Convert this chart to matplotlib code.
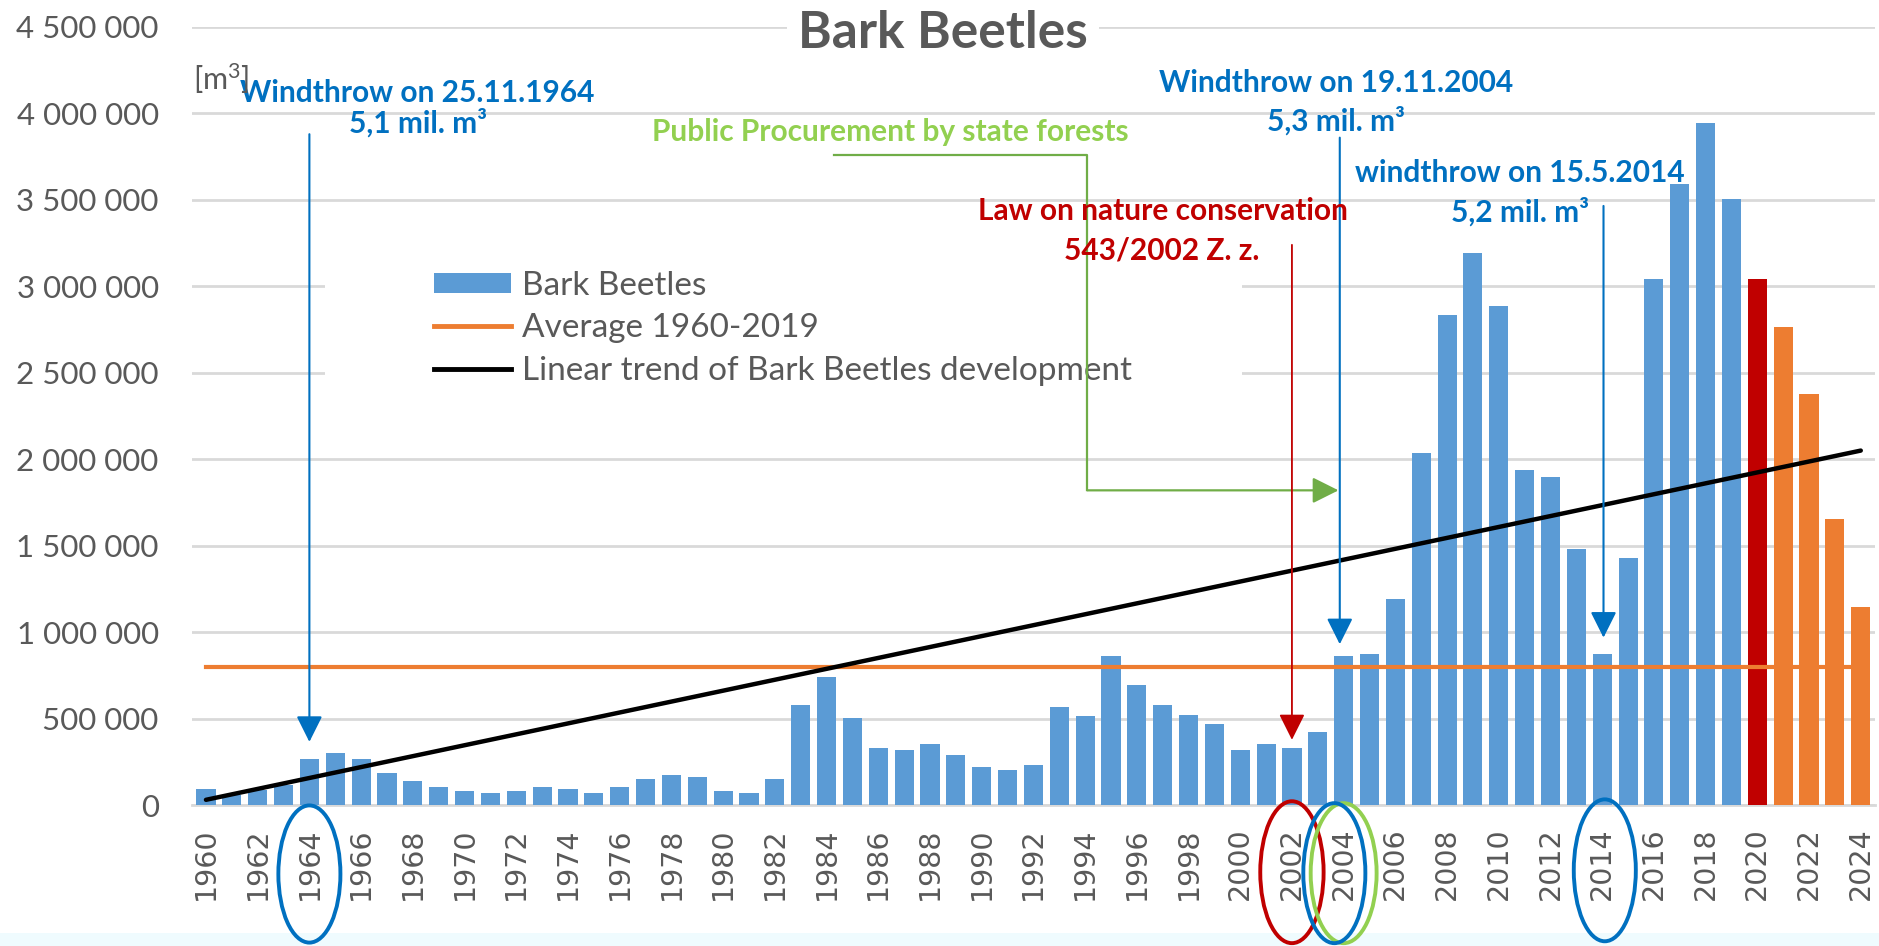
import numpy as np
import matplotlib
matplotlib.use("Agg")
import matplotlib.pyplot as plt
from matplotlib.patches import Patch, Rectangle, Ellipse
from matplotlib.lines import Line2D
from matplotlib.ticker import FuncFormatter
from matplotlib.transforms import blended_transform_factory

plt.rcParams['font.family'] = ['Lato', 'DejaVu Sans']
plt.rcParams['mathtext.fontset'] = 'custom'
plt.rcParams['mathtext.rm'] = 'Lato'
plt.rcParams['mathtext.it'] = 'Lato'

# data (m3 per year)
years = list(range(1960, 2025))
volume = [93000, 60000, 87000, 115000, 264000, 298000, 264000, 186000, 140000, 107000,
          83000, 72000, 83000, 107000, 95000, 72000, 107000, 151000, 174000, 163000,
          83000, 72000, 151000, 579000, 738000, 502000, 331000, 320000, 355000, 287000,
          217000, 205000, 229000, 568000, 512000, 862000, 694000, 579000, 523000, 467000,
          320000, 355000, 331000, 420000, 862000, 874000, 1190000, 2035000, 2833000, 3194000,
          2889000, 1938000, 1896000, 1479000, 874000, 1430000, 3040000, 3592000, 3945000, 3505000,
          3042000, 2764000, 2375000, 1653000, 1146000]
average_value = 800000
trend_years = [1960, 2024]
trend_values = [30000, 2050000]

blue = '#5B9BD5'
dark_red = '#C00000'
orange = '#ED7D31'
grey = '#595959'
txt_blue = '#0070C0'
txt_green = '#92D050'
line_green = '#70AD47'

bar_colors = [blue if y < 2020 else (dark_red if y == 2020 else orange) for y in years]

W, H = 1879, 946
fig = plt.figure(figsize=(W / 100, H / 100), dpi=100)
ax = fig.add_axes([192 / W, (H - 805) / H, (1875 - 192) / W, (805 - 27) / H])

ax.set_xlim(1959.46, 2024.55)
ax.set_ylim(0, 4500000)

ax.bar(years, volume, width=0.74, color=bar_colors, zorder=2)
ax.plot([years[0], years[-1]], [average_value, average_value], color=orange, lw=3, zorder=3)
ax.plot(trend_years, trend_values, color='black', lw=3.2, zorder=4, solid_capstyle='round')

ax.set_yticks(np.arange(0, 4500001, 500000))
ax.yaxis.set_major_formatter(FuncFormatter(lambda v, p: f'{int(v):,}'.replace(',', ' ')))
ax.set_xticks(years[::2])
ax.set_xticklabels([str(y) for y in years[::2]], rotation=90, family='DejaVu Sans',
                   fontsize=20.5, color=grey)
ax.tick_params(axis='x', length=0, pad=16)
ax.tick_params(axis='y', length=0, pad=24, labelsize=22.5, labelcolor=grey)
ax.grid(axis='y', color='#D9D9D9', lw=2)
ax.set_axisbelow(True)
ax.axhline(0, color='#D9D9D9', lw=2, clip_on=False, zorder=1)
for s in ax.spines.values():
    s.set_visible(False)

# legend area hides the gridlines
ax.add_patch(Rectangle((325 / W, (H - 405) / H), (1242 - 325) / W, (405 - 245) / H,
                       transform=fig.transFigure, facecolor='white', edgecolor='none',
                       zorder=1, clip_on=False))
handles = [Patch(facecolor=blue),
           Line2D([], [], color=orange, lw=3.5),
           Line2D([], [], color='black', lw=3.5)]
labels = ['Bark Beetles', 'Average 1960-2019', 'Linear trend of Bark Beetles development']
leg = ax.legend(handles, labels, loc='upper left', bbox_to_anchor=(434 / W, (H - 271) / H),
                bbox_transform=fig.transFigure, frameon=False, fontsize=24,
                handlelength=2.31, handleheight=0.57, handletextpad=0.33, labelspacing=0.37,
                borderpad=0, borderaxespad=0, labelcolor=grey)
leg.set_zorder(5)

fig.text(943 / W, (H - 48) / H, 'Bark Beetles', ha='center', va='baseline', fontsize=37,
         fontweight='bold', color=grey,
         bbox=dict(facecolor='white', edgecolor='none', pad=8))
fig.text(193 / W, (H - 90) / H, '[m$^{3}$]', ha='left', va='baseline', fontsize=22, color=grey)

# annotations
def note(x, y, s, color):
    ax.text(x, y, s, ha='center', va='baseline', fontsize=21.5, fontweight='bold',
            color=color, zorder=6)

def arrow(x0, y0, x1, y1, color, lw=1.5):
    ax.annotate('', xy=(x1, y1), xytext=(x0, y0),
                arrowprops=dict(arrowstyle='-|>,head_length=0.8,head_width=0.4',
                                mutation_scale=20, color=color, lw=lw,
                                shrinkA=0, shrinkB=0), zorder=6)

note(1968.16, 4067000, 'Windthrow on 25.11.1964', txt_blue)
note(1968.2, 3888000, '5,1 mil. m³', txt_blue)
arrow(1964, 3880000, 1964, 365000, txt_blue)

note(1986.46, 3841000, 'Public Procurement by state forests', txt_green)
ax.plot([1984.3, 1994.08, 1994.08], [3760000, 3760000, 1820000], color=line_green, lw=1.6, zorder=6)
arrow(1994.08, 1820000, 2003.8, 1820000, line_green, lw=1.6)

note(2003.71, 4125000, 'Windthrow on 19.11.2004', txt_blue)
note(2003.71, 3899000, '5,3 mil. m³', txt_blue)
arrow(2003.85, 3860000, 2003.85, 930000, txt_blue)

note(1997.02, 3384000, 'Law on nature conservation', dark_red)
note(1996.98, 3158000, '543/2002 Z. z.', dark_red)
arrow(2002, 3240000, 2002, 377000, dark_red, lw=1.3)

note(2010.83, 3604000, 'windthrow on 15.5.2014', txt_blue)
note(2010.83, 3372000, '5,2 mil. m³', txt_blue)
arrow(2014.05, 3465000, 2014.05, 968000, txt_blue)

# light band along the bottom edge
fig.add_artist(Rectangle((0, 0), 1, 13 / H, transform=fig.transFigure,
                         facecolor='#EFFBFE', edgecolor='none', zorder=1))

# circles around the marked years
trans = blended_transform_factory(ax.transData, fig.transFigure)
for x, yc, w, h, c in [(2002, 0.078, 2.45, 0.150, dark_red),
                       (2004.0, 0.077, 2.55, 0.148, txt_green),
                       (1964, 0.0761, 2.4, 0.145, txt_blue),
                       (2003.64, 0.077, 2.4, 0.148, txt_blue),
                       (2014.1, 0.080, 2.4, 0.150, txt_blue)]:
    fig.add_artist(Ellipse((x, yc), w, h, transform=trans, fill=False, edgecolor=c,
                           lw=2.8, zorder=2))

fig.savefig('out.png', dpi=100)
